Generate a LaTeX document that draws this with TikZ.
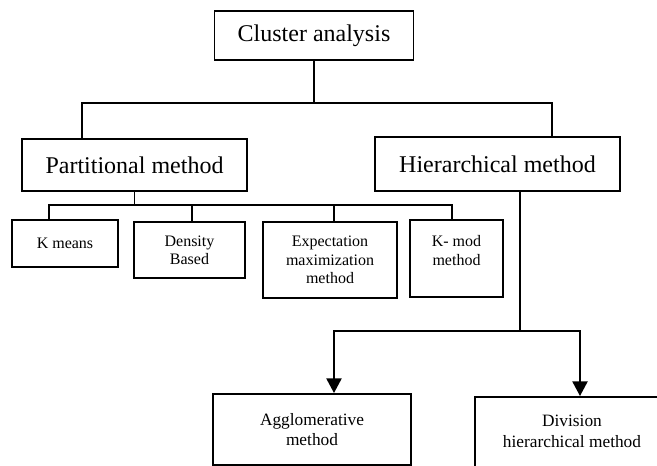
\documentclass[tikz,border=0pt]{standalone}
\usepackage{fontspec}
\setmainfont{Liberation Serif}
\usetikzlibrary{arrows.meta}
\begin{document}
\begin{tikzpicture}[x=0.75pt,y=-0.75pt,
  box/.style={draw, line width=1.3pt, inner sep=0pt},
  big/.style={font=\fontsize{18}{21}\selectfont},
  small/.style={font=\fontsize{12}{13.7}\selectfont, align=center},
  med/.style={font=\fontsize{13}{15.5}\selectfont, align=center},
  conn/.style={line width=1.3pt},
  arr/.style={line width=2.2pt, -{Triangle[width=11pt,length=11pt]}}]
\useasboundingbox (0,0) rectangle (657,466);
\clip (0,0) rectangle (657,466);
% top level
\node[box, big, minimum width=149.25pt, minimum height=36.75pt] (ca) at (314,35.5) {Cluster analysis};
\node[box, big, minimum width=168.75pt, minimum height=39pt] (pm) at (134.5,165) {Partitional method};
\node[box, big, minimum width=183.75pt, minimum height=40.5pt] (hm) at (497.5,164) {Hierarchical method};
% partitional children
\node[box, small, minimum width=79.5pt, minimum height=35.25pt] (km) at (65,243.5) {K means};
\node[box, small, minimum width=83.25pt, minimum height=42pt] (db) at (189.5,250) {Density\\Based};
\node[box, small, minimum width=100.5pt, minimum height=57pt] (em) at (330,260) {Expectation\\maximization\\method};
\node[box, minimum width=69.75pt, minimum height=57.75pt] (kmod) at (456.5,258.5) {};
\node[small] (kmodt) at (456.5,250.5) {K- mod\\method};
% hierarchical children
\node[box, med, minimum width=148.5pt, minimum height=53.25pt] (ag) at (312,429.5) {Agglomerative\\method};
\node[box, minimum width=150pt, minimum height=62.25pt] (dv) at (575,438.5) {};
\node[med] (dvt) at (572,431.5) {Division\\hierarchical method};
% junction coordinates
\coordinate (hL) at (82,103);
\coordinate (hR) at (552,103);
\coordinate (pL) at (49,205);
\coordinate (pR) at (452,205);
\coordinate (s2) at (192,205);
\coordinate (s3) at (334,205);
\coordinate (hj) at (520,331);
\coordinate (aL) at (334,331);
\coordinate (aR) at (580,331);
% connectors
\draw[conn] (ca.south) -- (ca.south |- hL);
\draw[conn] (pm.north -| hL) |- (hR) -- (hm.north -| hR);
\draw[conn] (pm.south) -- (pm.south |- pL);
\draw[conn] (km.north -| pL) |- (pR) -- (kmod.north -| pR);
\draw[conn] (s2) -- (db.north -| s2);
\draw[conn] (s3) -- (em.north -| s3);
\draw[conn] (hm.south -| hj) -- (hj);
\draw[arr] (hj) -- (aL) -- (ag.north -| aL);
\draw[arr] (hj) -- (aR) -- (dv.north -| aR);
\end{tikzpicture}
\end{document}
